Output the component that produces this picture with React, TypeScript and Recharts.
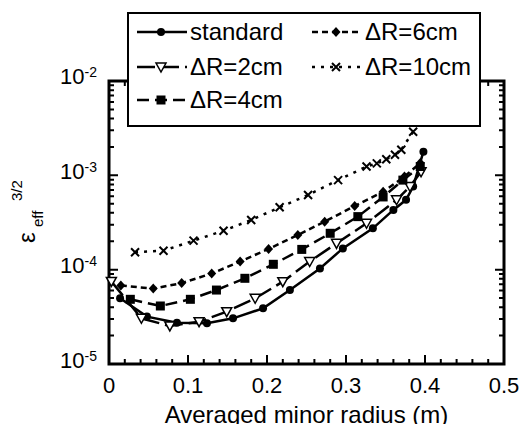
import { LineChart, Line, XAxis, YAxis, Label } from "recharts";

// minor radius (m) and effective ripple eps_eff^(3/2)
const standardX = [0.014, 0.048, 0.086, 0.124, 0.157, 0.195, 0.229, 0.267, 0.296, 0.334, 0.36, 0.376, 0.385, 0.398];
const standardY = [4.97e-5, 3.18e-5, 2.74e-5, 2.7e-5, 3.05e-5, 3.89e-5, 6.1e-5, 1.03e-4, 1.68e-4, 2.74e-4, 4.3e-4, 5.5e-4, 7.6e-4, 1.78e-3];

const dr2X = [0.003, 0.041, 0.077, 0.114, 0.149, 0.185, 0.22, 0.254, 0.288, 0.326, 0.364, 0.381, 0.395];
const dr2Y = [7.5e-5, 3.05e-5, 2.53e-5, 2.81e-5, 3.59e-5, 4.97e-5, 7.46e-5, 1.22e-4, 1.9e-4, 3.1e-4, 5.5e-4, 7.6e-4, 1.09e-3];

const dr4X = [0.027, 0.065, 0.103, 0.136, 0.172, 0.208, 0.244, 0.28, 0.315, 0.347, 0.372, 0.394];
const dr4Y = [4.85e-5, 4.12e-5, 4.85e-5, 6.08e-5, 8.1e-5, 1.14e-4, 1.64e-4, 2.43e-4, 3.65e-4, 5.9e-4, 8.9e-4, 1.24e-3];

const dr6X = [0.015, 0.056, 0.092, 0.13, 0.166, 0.202, 0.239, 0.273, 0.311, 0.347, 0.374, 0.394];
const dr6Y = [6.8e-5, 6.3e-5, 7.2e-5, 9.1e-5, 1.22e-4, 1.66e-4, 2.33e-4, 3.23e-4, 4.73e-4, 6.7e-4, 9.7e-4, 1.35e-3];

const dr10X = [0.033, 0.069, 0.107, 0.145, 0.18, 0.216, 0.252, 0.29, 0.326, 0.339, 0.351, 0.362, 0.37, 0.385];
const dr10Y = [1.53e-4, 1.59e-4, 2.03e-4, 2.59e-4, 3.36e-4, 4.58e-4, 6.19e-4, 8.9e-4, 1.24e-3, 1.34e-3, 1.48e-3, 1.65e-3, 1.87e-3, 2.9e-3];

const xMajor = [0, 0.1, 0.2, 0.3, 0.4, 0.5];
const yExponents = [-5, -4, -3, -2];

const toPoints = (xs: number[], ys: number[]) => xs.map((x, i) => ({ x, y: ys[i] }));

const series = [
  { name: "standard", data: toPoints(standardX, standardY), dash: undefined, shape: "circle", col: 0, row: 0 },
  { name: "\u0394R=2cm", data: toPoints(dr2X, dr2Y), dash: "18 6", shape: "triangle", col: 0, row: 1 },
  { name: "\u0394R=4cm", data: toPoints(dr4X, dr4Y), dash: "12 6", shape: "square", col: 0, row: 2 },
  { name: "\u0394R=6cm", data: toPoints(dr6X, dr6Y), dash: "6 4", shape: "diamond", col: 1, row: 0 },
  { name: "\u0394R=10cm", data: toPoints(dr10X, dr10Y), dash: "3 6", shape: "cross", col: 1, row: 1 },
];

const FONT = "'Liberation Sans', Arial, Helvetica, sans-serif";
const W = 520;
const H = 424;
const X_DOMAIN = [0, 0.5];
const Y_DOMAIN = [1e-5, 1e-2];

// plot box is 395 x 283 px; tick lengths are converted to data units
const PX_PER_X = 395 / 0.5;
const PX_PER_DECADE = 283 / 3;
const xLen = (px: number) => px / PX_PER_X;
const yFactor = (px: number) => Math.pow(10, px / PX_PER_DECADE);

// minor ticks every 0.02 on x, 2..9 per decade on y
const xTicks: number[] = [];
for (let i = 0; i <= 25; i++) xTicks.push(Math.round(i * 2) / 100);
const yTicks: number[] = [];
yExponents.forEach((e, k) => {
  if (k === yExponents.length - 1) {
    yTicks.push(Math.pow(10, e));
    return;
  }
  for (let m = 1; m <= 9; m++) yTicks.push(m * Math.pow(10, e));
});

const isMajorX = (v: number) => xMajor.some((m) => Math.abs(m - v) < 1e-9);
const isMajorY = (v: number) => Math.abs(Math.log10(v) - Math.round(Math.log10(v))) < 1e-6;

// frame and inward tick marks as broken polylines (null breaks the path)
const [X0, X1] = X_DOMAIN;
const [Y0, Y1] = Y_DOMAIN;
const frameData = [
  { x: X0, y: Y0 },
  { x: X1, y: Y0 },
  { x: X1, y: Y1 },
  { x: X0, y: Y1 },
  { x: X0, y: Y0 },
];
const tickData: { x: number; y: number | null }[] = [];
xTicks.forEach((v) => {
  const f = yFactor(isMajorX(v) ? 9 : 5);
  tickData.push({ x: v, y: Y0 }, { x: v, y: Y0 * f }, { x: v, y: null });
  tickData.push({ x: v, y: Y1 }, { x: v, y: Y1 / f }, { x: v, y: null });
});
yTicks.forEach((v) => {
  const d = xLen(isMajorY(v) ? 9 : 5);
  tickData.push({ x: X0, y: v }, { x: X0 + d, y: v }, { x: X0 + d, y: null });
  tickData.push({ x: X1, y: v }, { x: X1 - d, y: v }, { x: X1 - d, y: null });
});

function Marker({ shape, cx, cy }: { shape: string; cx: number; cy: number }) {
  switch (shape) {
    case "circle":
      return <circle cx={cx} cy={cy} r={4} fill="#000" />;
    case "triangle":
      return (
        <path
          d={`M${cx - 5},${cy - 4}L${cx + 5},${cy - 4}L${cx},${cy + 5}Z`}
          fill="#fff"
          stroke="#000"
          strokeWidth={1.5}
        />
      );
    case "square":
      return <rect x={cx - 4.5} y={cy - 4.5} width={9} height={9} fill="#000" />;
    case "diamond":
      return <path d={`M${cx},${cy - 5}L${cx + 4.5},${cy}L${cx},${cy + 5}L${cx - 4.5},${cy}Z`} fill="#000" />;
    default:
      return (
        <path
          d={`M${cx - 4},${cy - 4}L${cx + 4},${cy + 4}M${cx + 4},${cy - 4}L${cx - 4},${cy + 4}`}
          stroke="#000"
          strokeWidth={2}
        />
      );
  }
}

const dotFor = (shape: string) => (p: any) => (
  <g key={`${shape}-${p.index}`}>
    <Marker shape={shape} cx={p.cx} cy={p.cy} />
  </g>
);

const BottomTick = (p: any) =>
  isMajorX(p.payload.value) ? (
    <text x={p.x} y={p.y + 29} textAnchor="middle" fontSize={22} fontFamily={FONT} fill="#000">
      {String(p.payload.value)}
    </text>
  ) : (
    <g />
  );

const LeftTick = (p: any) => {
  if (!isMajorY(p.payload.value)) return <g />;
  const exp = Math.round(Math.log10(p.payload.value));
  return (
    <text x={p.x - 12} y={p.y + 4} textAnchor="end" fontSize={22} fontFamily={FONT} fill="#000">
      10
      <tspan dy={-7} fontSize={14}>
        {String(exp)}
      </tspan>
    </text>
  );
};

const YLabel = () => (
  <text transform="translate(35,243) rotate(-90)" fontFamily={FONT} fill="#000">
    <tspan x={0} y={0} fontSize={24}>
      {"\u03B5"}
    </tspan>
    <tspan x={16} y={8} fontSize={15}>
      eff
    </tspan>
    <tspan x={42} y={-13} fontSize={15}>
      3/2
    </tspan>
  </text>
);

// legend box drawn on top of the plot, as in the original figure
function LegendBox() {
  const rowY = [20, 55, 88];
  const colX = [10, 185];
  return (
    <div style={{ position: "absolute", left: 127, top: 12, width: 354, height: 115 }}>
      <svg width={354} height={115} style={{ display: "block" }}>
        <rect x={1} y={1} width={352} height={113} fill="#fff" stroke="#000" strokeWidth={2} />
        {series.map((s) => {
          const x0 = colX[s.col];
          const cy = rowY[s.row];
          return (
            <g key={s.name}>
              <line x1={x0} y1={cy} x2={x0 + 50} y2={cy} stroke="#000" strokeWidth={2.5} strokeDasharray={s.dash} />
              <Marker shape={s.shape} cx={x0 + 24} cy={cy} />
              <text x={x0 + 53} y={cy + 8} fontSize={24} fontFamily={FONT} fill="#000">
                {s.name}
              </text>
            </g>
          );
        })}
      </svg>
    </div>
  );
}

// curves, frame and inward ticks (all through the chart's scales)
function SeriesChart() {
  return (
    <LineChart width={W} height={H} margin={{ top: 81, right: 16, bottom: 60, left: 109 }}>
      <XAxis dataKey="x" type="number" domain={X_DOMAIN} hide />
      <YAxis type="number" scale="log" domain={Y_DOMAIN} hide />
      <Line
        data={tickData}
        dataKey="y"
        stroke="#000"
        strokeWidth={2}
        dot={false}
        activeDot={false}
        connectNulls={false}
        isAnimationActive={false}
      />
      <Line
        data={frameData}
        dataKey="y"
        stroke="#000"
        strokeWidth={3}
        strokeLinecap="square"
        dot={false}
        activeDot={false}
        isAnimationActive={false}
      />
      {series.map((s) => (
        <Line
          key={s.name}
          data={s.data}
          dataKey="y"
          name={s.name}
          stroke="#000"
          strokeWidth={2.5}
          strokeDasharray={s.dash}
          dot={dotFor(s.shape)}
          activeDot={false}
          isAnimationActive={false}
        />
      ))}
    </LineChart>
  );
}

// tick labels and axis titles
function AxesChart() {
  return (
    <LineChart width={W} height={H} margin={{ top: 80, right: 16, bottom: 59, left: 0 }}>
      <XAxis
        dataKey="x"
        type="number"
        domain={X_DOMAIN}
        allowDataOverflow
        ticks={xTicks}
        interval={0}
        height={1}
        tickSize={0}
        tickMargin={0}
        tickLine={false}
        tick={BottomTick}
        axisLine={false}
      >
        <Label
          value="Averaged minor radius (m)"
          position="bottom"
          offset={41}
          style={{ fontSize: 24, fontFamily: FONT, fill: "#000" }}
        />
      </XAxis>
      <YAxis
        type="number"
        scale="log"
        domain={Y_DOMAIN}
        allowDataOverflow
        ticks={yTicks}
        interval={0}
        width={109}
        tickSize={0}
        tickMargin={0}
        tickLine={false}
        tick={LeftTick}
        axisLine={false}
      >
        <Label content={YLabel} />
      </YAxis>
    </LineChart>
  );
}

export default function App() {
  return (
    <div style={{ position: "relative", width: W, height: H, background: "#fff" }}>
      <style>{`body{margin:0}`}</style>
      <div style={{ position: "absolute", left: 0, top: 0 }}>
        <SeriesChart />
      </div>
      <div style={{ position: "absolute", left: 0, top: 0 }}>
        <AxesChart />
      </div>
      <LegendBox />
    </div>
  );
}
